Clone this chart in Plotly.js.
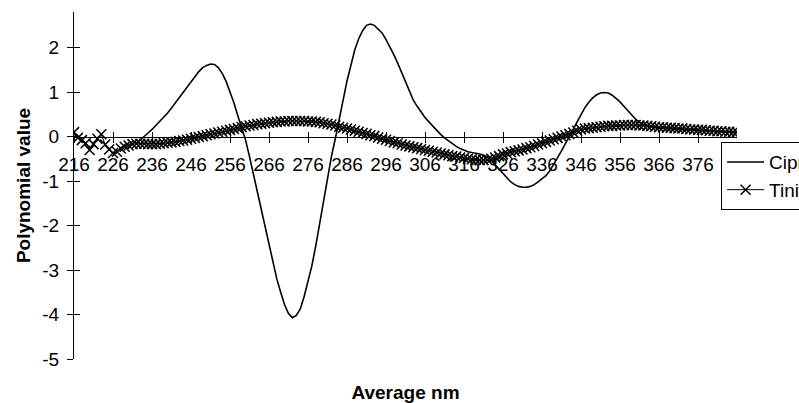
<!DOCTYPE html>
<html>
<head>
<meta charset="utf-8">
<script src="https://cdn.plot.ly/plotly-3.0.1.min.js"></script>
<style>html,body{margin:0;padding:0;background:#fff;}#chart{width:799px;height:403px;}</style>
</head>
<body>
<div id="chart"></div>
<script>
// Tinidazole series (x in nm, y polynomial value)
var tinNm = [216,217,218,219,220,221,222,223,224,225,226,227,228,229,230,231,232,233,234,235,
  236,237,238,239,240,241,242,243,244,245,246,247,248,249,250,251,252,253,254,255,
  256,257,258,259,260,261,262,263,264,265,266,267,268,269,270,271,272,273,274,275,
  276,277,278,279,280,281,282,283,284,285,286,287,288,289,290,291,292,293,294,295,
  296,297,298,299,300,301,302,303,304,305,306,307,308,309,310,311,312,313,314,315,
  316,317,318,319,320,321,322,323,324,325,326,327,328,329,330,331,332,333,334,335,
  336,337,338,339,340,341,342,343,344,345,346,347,348,349,350,351,352,353,354,355,
  356,357,358,359,360,361,362,363,364,365,366,367,368,369,370,371,372,373,374,375,
  376,377,378,379,380,381,382,383,384,385,386];
var tinVal = [0.10,-0.03,-0.08,-0.15,-0.30,-0.17,-0.05,0.05,-0.18,-0.29,-0.37,-0.34,-0.27,-0.23,-0.20,-0.17,-0.16,-0.16,-0.16,-0.17,
  -0.17,-0.17,-0.16,-0.15,-0.14,-0.13,-0.12,-0.10,-0.09,-0.07,-0.05,-0.03,-0.01,0.01,0.03,0.05,0.07,0.09,0.11,0.13,
  0.15,0.17,0.19,0.21,0.23,0.25,0.26,0.28,0.29,0.30,0.31,0.32,0.33,0.34,0.34,0.35,0.35,0.35,0.35,0.35,
  0.34,0.34,0.33,0.32,0.30,0.29,0.27,0.25,0.22,0.20,0.18,0.16,0.13,0.11,0.08,0.06,0.03,0.01,-0.02,-0.05,
  -0.07,-0.10,-0.13,-0.15,-0.18,-0.20,-0.22,-0.24,-0.26,-0.28,-0.30,-0.32,-0.34,-0.36,-0.38,-0.40,-0.42,-0.44,-0.45,-0.47,
  -0.48,-0.50,-0.51,-0.52,-0.53,-0.53,-0.52,-0.50,-0.47,-0.44,-0.40,-0.38,-0.35,-0.33,-0.31,-0.29,-0.26,-0.24,-0.21,-0.18,
  -0.15,-0.12,-0.09,-0.06,-0.03,0.00,0.03,0.06,0.09,0.13,0.16,0.18,0.19,0.20,0.21,0.22,0.23,0.24,0.24,0.25,
  0.25,0.26,0.26,0.26,0.26,0.25,0.25,0.24,0.23,0.22,0.21,0.21,0.20,0.20,0.19,0.18,0.18,0.17,0.16,0.16,
  0.15,0.15,0.14,0.13,0.13,0.12,0.12,0.11,0.11,0.10,0.10];

// Ciprofloxacin series
var cipNm = [232,233,234,235,236,237,238,239,240,241,242,243,244,245,246,247,248,249,250,251,
  252,253,254,255,256,257,258,259,260,261,262,263,264,265,266,267,268,269,270,271,
  272,273,274,275,276,277,278,279,280,281,282,283,284,285,286,287,288,289,290,291,
  292,293,294,295,296,297,298,299,300,301,302,303,304,305,306,307,308,309,310,311,
  312,313,314,315,316,317,318,319,320,321,322,323,324,325,326,327,328,329,330,331,
  332,333,334,335,336,337,338,339,340,341,342,343,344,345,346,347,348,349,350,351,
  352,353,354,355,356,357,358,359,360,361,362,363,364,365,366,367,368,369,370,371,
  372,373,374,375,376,377,378,379,380,381,382,383,384,385,386];
var cipVal = [-0.15,-0.08,0.00,0.08,0.16,0.25,0.34,0.43,0.53,0.64,0.76,0.88,1.00,1.12,1.24,1.36,1.46,1.55,1.60,1.63,
  1.62,1.55,1.42,1.24,1.02,0.76,0.47,0.18,-0.08,-0.45,-0.85,-1.20,-1.60,-2.00,-2.45,-2.85,-3.20,-3.50,-3.78,-3.98,
  -4.07,-4.02,-3.88,-3.60,-3.25,-2.90,-2.45,-1.95,-1.45,-0.95,-0.45,-0.05,0.40,0.85,1.25,1.60,1.95,2.20,2.38,2.50,
  2.53,2.50,2.42,2.33,2.18,2.02,1.84,1.65,1.44,1.24,1.03,0.82,0.68,0.55,0.43,0.33,0.23,0.14,0.05,-0.03,
  -0.10,-0.16,-0.22,-0.27,-0.31,-0.34,-0.36,-0.37,-0.39,-0.42,-0.46,-0.54,-0.64,-0.74,-0.84,-0.94,-1.02,-1.08,-1.12,-1.14,
  -1.14,-1.12,-1.08,-1.02,-0.95,-0.88,-0.77,-0.63,-0.47,-0.32,-0.16,-0.01,0.16,0.33,0.50,0.65,0.77,0.87,0.94,0.98,
  0.99,0.98,0.93,0.86,0.78,0.68,0.58,0.48,0.39,0.32,0.27,0.24,0.22,0.20,0.19,0.18,0.18,0.17,0.17,0.16,
  0.16,0.15,0.15,0.14,0.14,0.13,0.13,0.12,0.12,0.11,0.11,0.10,0.10,0.09,0.09];

var seriesNames = ['Ciprofloxacin', 'Tinidazole'];
var xTickVals = [216,226,236,246,256,266,276,286,296,306,316,326,336,346,356,366,376];
var yTickVals = [-5,-4,-3,-2,-1,0,1,2];
var yTickText = ['-5','-4','-3','-2','-1','0','1','2'];
var xRange = [216, 386];
var yRange = [-5, 2.8];

var FONT = 'Liberation Sans, Arial, sans-serif';
var zeroPos = (0 - yRange[0]) / (yRange[1] - yRange[0]);

var traces = [
  {x: cipNm, y: cipVal, name: seriesNames[0], type: 'scatter', mode: 'lines',
   line: {color: '#000', width: 1.6}, xaxis: 'x', yaxis: 'y'},
  {x: tinNm, y: tinVal, name: seriesNames[1], type: 'scatter', mode: 'lines+markers',
   line: {color: '#000', width: 1},
   marker: {symbol: 'x-thin', size: 10, color: '#000', line: {color: '#000', width: 1.5}},
   xaxis: 'x', yaxis: 'y'},
  // empty helper traces so the overlay axes (cross ticks, bottom title) are drawn
  {x: [], y: [], type: 'scatter', mode: 'lines', showlegend: false, hoverinfo: 'skip', xaxis: 'x2', yaxis: 'y'},
  {x: [], y: [], type: 'scatter', mode: 'lines', showlegend: false, hoverinfo: 'skip', xaxis: 'x3', yaxis: 'y'},
  {x: [], y: [], type: 'scatter', mode: 'lines', showlegend: false, hoverinfo: 'skip', xaxis: 'x', yaxis: 'y2'}
];

var common = {range: xRange, tickmode: 'array', tickvals: xTickVals,
  showgrid: false, zeroline: false, tickcolor: '#000', tickwidth: 1};

var layout = {
  width: 799, height: 403,
  margin: {l: 74, r: 62, t: 12, b: 44, autoexpand: false},
  paper_bgcolor: '#fff', plot_bgcolor: '#fff',
  font: {family: FONT, size: 19, color: '#000'},
  showlegend: true,
  legend: {x: 0.976, y: 0.625, xanchor: 'left', yanchor: 'top', itemwidth: 37,
    bordercolor: '#000', borderwidth: 1, bgcolor: '#fff',
    font: {family: FONT, size: 19, color: '#000'}},
  xaxis: Object.assign({}, common, {anchor: 'free', position: zeroPos,
    showline: true, linecolor: '#000', linewidth: 1,
    ticks: 'outside', ticklen: 5, showticklabels: true, ticklabelstandoff: 6,
    tickfont: {family: FONT, size: 19, color: '#000'}}),
  xaxis2: Object.assign({}, common, {overlaying: 'x', anchor: 'free', position: zeroPos,
    showline: false, ticks: 'inside', ticklen: 5, showticklabels: false}),
  xaxis3: Object.assign({}, common, {overlaying: 'x', anchor: 'y', side: 'bottom',
    showline: false, ticks: '', showticklabels: false,
    title: {text: '<b>Average nm</b>', font: {family: FONT, size: 19, color: '#000'}, standoff: 26}}),
  yaxis: {range: yRange, tickmode: 'array', tickvals: yTickVals, ticktext: yTickText,
    showgrid: false, zeroline: false, showline: true, linecolor: '#000', linewidth: 1,
    ticks: 'outside', ticklen: 6, tickcolor: '#000', ticklabelstandoff: 4,
    tickfont: {family: FONT, size: 19, color: '#000'},
    title: {text: '<b>Polynomial value</b>', font: {family: FONT, size: 19, color: '#000'}, standoff: 6}},
  yaxis2: {range: yRange, tickmode: 'array', tickvals: yTickVals, overlaying: 'y', anchor: 'x',
    showgrid: false, zeroline: false, showline: false, ticks: 'inside', ticklen: 6, tickcolor: '#000',
    showticklabels: false}
};

Plotly.newPlot('chart', traces, layout, {staticPlot: true, displayModeBar: false});
</script>
</body>
</html>
